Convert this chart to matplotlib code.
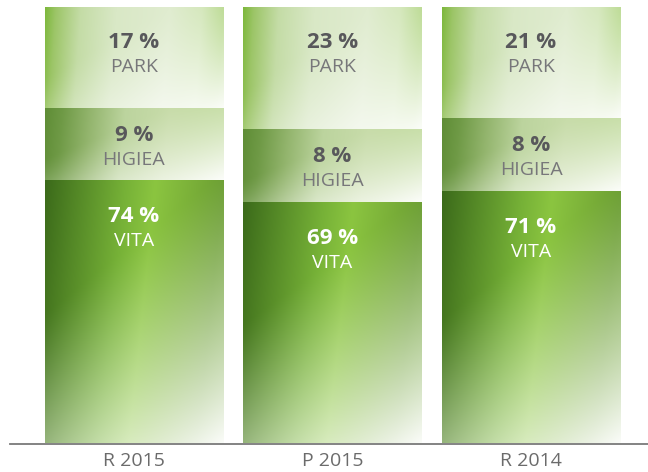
import numpy as np
import matplotlib
matplotlib.use("Agg")
import matplotlib.pyplot as plt
from matplotlib.colors import to_rgb

plt.rcParams['font.family'] = ['Open Sans', 'DejaVu Sans']

# --- DATA ---
categories = ["R 2015", "P 2015", "R 2014"]
segments = ["VITA", "HIGIEA", "PARK"]
# shares printed on the chart (%)
vita_pct = [74, 69, 71]
higiea_pct = [9, 8, 8]
park_pct = [17, 23, 21]
# drawn heights of the blocks (% of column height)
vita_h = [60.3, 55.3, 57.8]
higiea_h = [16.5, 16.7, 16.7]
park_h = [23.2, 28.0, 25.5]

# --- STYLE ---
bar_w = 0.897
px_per_unit_x = 198.5   # pixels per x unit

stops = {
    "VITA": [(0.0, "#3b6a1a"), (0.18, "#538726"), (0.45, "#76b137"),
             (0.62, "#8bc540"), (0.85, "#79ae38"), (1.0, "#6c9f33")],
    "HIGIEA": [(0.0, "#5f8d36"), (0.1, "#6f9a46"), (0.25, "#92b46c"),
               (0.45, "#bcd49e"), (0.7, "#c8dcaa"), (1.0, "#c0da9c")],
    "PARK": [(0.0, "#7db83c"), (0.06, "#9cc567"), (0.2, "#c4dca6"),
             (0.4, "#d9e8c6"), (0.7, "#e0ecd0"), (0.88, "#d2e6b8"),
             (1.0, "#b3d686")],
}
# white sheen: weight of x, weight of y, start, power, strength
sheen = {"VITA": (0.35, 0.65, 0.33, 1.2, 0.97),
         "HIGIEA": (0.5, 0.5, 0.35, 1.3, 0.95),
         "PARK": (0.5, 0.5, 0.35, 1.3, 0.95)}
pct_color = {"VITA": "white", "HIGIEA": "#58585b", "PARK": "#58585b"}
lab_color = {"VITA": "white", "HIGIEA": "#77777a", "PARK": "#77777a"}
# pixel offsets below the block top: (percentage, name)
txt_off = {"VITA": (-37, -61), "HIGIEA": (-28, -52), "PARK": (-36, -61)}


def gradient(name, nx=200, ny=300):
    u = np.linspace(0, 1, nx)[None, :]
    vd = np.linspace(0, 1, ny)[:, None]
    pos = [s[0] for s in stops[name]]
    cols = np.array([to_rgb(s[1]) for s in stops[name]])
    # tilt the colour bands a little ("/" direction)
    shear = 0.15 if name == "VITA" else 0.04
    uu = np.clip(u + shear * vd, 0, 1)
    base = np.stack([np.interp(uu, pos, cols[:, k]) for k in range(3)], axis=-1)
    wx, wy, d0, pw, k = sheen[name]
    d = wx * u + wy * vd
    a = np.clip((d - d0) / (1 - d0), 0, 1) ** pw * k
    a = a[..., None]
    return base * (1 - a) + a


fig = plt.figure(figsize=(6.48, 4.72), dpi=100)
ax = fig.add_axes([10 / 648, 28.5 / 472, 638 / 648, 437 / 472])

x = np.arange(len(categories))
b_vita = ax.bar(x, vita_h, bar_w, color="none", edgecolor="none")
b_hig = ax.bar(x, higiea_h, bar_w, bottom=vita_h, color="none", edgecolor="none")
b_park = ax.bar(x, park_h, bar_w, bottom=np.add(vita_h, higiea_h),
                color="none", edgecolor="none")

for name, bars, pcts in [("VITA", b_vita, vita_pct),
                         ("HIGIEA", b_hig, higiea_pct),
                         ("PARK", b_park, park_pct)]:
    for p, val in zip(bars, pcts):
        x0, y0 = p.get_x(), p.get_y()
        w, h = p.get_width(), p.get_height()
        im = ax.imshow(gradient(name), extent=[x0, x0 + w, y0, y0 + h],
                       origin="upper", aspect="auto",
                       interpolation="bilinear", zorder=1)
        im.set_clip_path(p)
        cx, top = x0 + w / 2, y0 + h
        ax.annotate(f"{val} %", (cx, top), xytext=(0, txt_off[name][0]),
                    textcoords="offset pixels", ha="center", va="center",
                    fontsize=16, fontweight="bold", color=pct_color[name], zorder=3)
        ax.annotate(name, (cx, top), xytext=(0, txt_off[name][1]),
                    textcoords="offset pixels", ha="center", va="center",
                    fontsize=14, color=lab_color[name], zorder=3)

ax.set_xlim(-124 / px_per_unit_x, 2 + 117 / px_per_unit_x)
ax.set_ylim(0, 100)
ax.set_xticks(x, categories)
ax.tick_params(axis="x", length=0, pad=6, labelsize=14, labelcolor="#6b6b6b")
ax.set_yticks([])
for s in ["top", "left", "right"]:
    ax.spines[s].set_visible(False)
ax.spines["bottom"].set_color("#7a7a7a")
ax.spines["bottom"].set_linewidth(1.3)
ax.spines["bottom"].set_zorder(4)
ax.patch.set_visible(False)

fig.savefig("out.png", dpi=100)
